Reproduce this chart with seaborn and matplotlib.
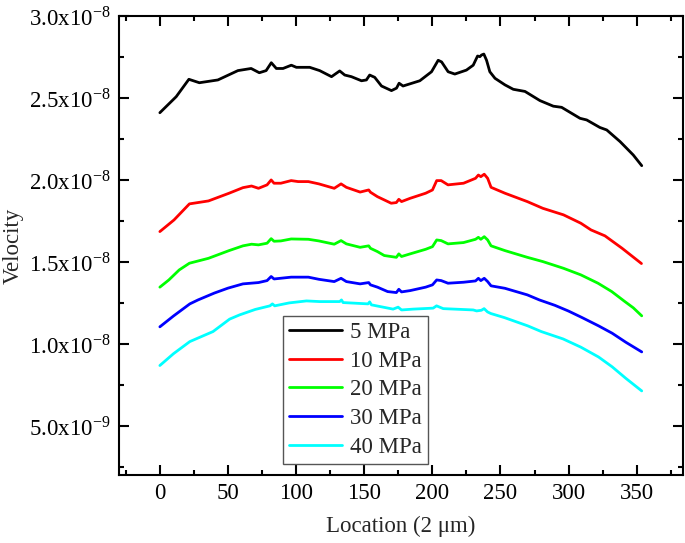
import numpy as np
import pandas as pd
import matplotlib
matplotlib.use("Agg")
import matplotlib.pyplot as plt
import seaborn as sns
from matplotlib.ticker import MultipleLocator, FuncFormatter


# Velocity profiles, values in units of 1e-8
loc_5 = [0, 12, 21.3, 29, 42.6, 57.3, 67, 73, 78, 81.8, 85.5, 90.4, 96.5, 100.2, 110,
         117.3, 126, 132, 135.7, 140.6, 148, 151.6, 154, 157.7, 162.7, 170, 173.7, 175.6,
         178.5, 190.8, 199.4, 204.3, 206.8, 211.6, 216.5, 225, 230, 233.2, 234.9, 236.1,
         237.8, 239.8, 242.2, 246, 253.3, 259.4, 268, 279, 288.8, 294.9, 308.4, 313.3,
         323, 328, 337.8, 347.5, 353.7]
vel_5 = [2.41, 2.508, 2.614, 2.593, 2.61, 2.667, 2.68, 2.654, 2.667, 2.715, 2.68, 2.68,
         2.70, 2.687, 2.687, 2.667, 2.63, 2.665, 2.64, 2.63, 2.605, 2.61, 2.64, 2.626,
         2.573, 2.545, 2.56, 2.59, 2.573, 2.605, 2.66, 2.73, 2.72, 2.66, 2.646, 2.67,
         2.70, 2.756, 2.752, 2.762, 2.768, 2.73, 2.66, 2.62, 2.58, 2.553, 2.54, 2.484,
         2.45, 2.443, 2.376, 2.366, 2.32, 2.305, 2.234, 2.152, 2.087]

loc_10 = [0, 10.4, 21.7, 35.7, 50.8, 61, 67.3, 72.4, 78.7, 81.7, 83.8, 88.8, 96.4, 101.5,
          109, 116.7, 128, 133, 136.9, 147, 153.3, 154.6, 159.7, 169.8, 173.6, 175.4,
          177.4, 183.7, 195.1, 200.1, 203.2, 206.5, 211.5, 222.9, 231.7, 233.8, 235.6,
          238.1, 240.6, 243.1, 253.3, 269.7, 281.1, 296.3, 309, 316.5, 326.7, 339.3, 353.5]
vel_10 = [1.685, 1.756, 1.854, 1.872, 1.919, 1.953, 1.963, 1.949, 1.97, 2.0, 1.98, 1.98,
          1.996, 1.99, 1.99, 1.976, 1.949, 1.976, 1.955, 1.926, 1.939, 1.925, 1.898, 1.858,
          1.862, 1.882, 1.868, 1.888, 1.919, 1.939, 1.996, 1.996, 1.97, 1.98, 2.01, 2.03,
          2.02, 2.035, 2.01, 1.955, 1.919, 1.868, 1.827, 1.787, 1.736, 1.695, 1.659,
          1.583, 1.49]

loc_20 = [0, 6.6, 14.2, 21.7, 35.7, 50.8, 61, 67.3, 72.4, 78.7, 81.7, 83.8, 88.8, 96.4,
          109, 116.7, 128, 133, 136.9, 147, 153.3, 154.6, 159.7, 164.7, 173.6, 175.4,
          177.4, 183.7, 195.1, 200.1, 203.2, 206.5, 211.5, 222.9, 231.7, 233.8, 235.6,
          238.1, 240.6, 243.1, 253.3, 269.7, 281.1, 296.3, 309, 321.6, 331.7, 341, 347.5,
          353.7]
vel_20 = [1.346, 1.39, 1.451, 1.492, 1.522, 1.569, 1.598, 1.608, 1.604, 1.614, 1.642,
          1.626, 1.628, 1.64, 1.638, 1.628, 1.608, 1.63, 1.61, 1.589, 1.598, 1.583, 1.563,
          1.539, 1.528, 1.549, 1.533, 1.549, 1.577, 1.593, 1.634, 1.63, 1.61, 1.618, 1.638,
          1.65, 1.638, 1.654, 1.634, 1.598, 1.569, 1.528, 1.502, 1.461, 1.421, 1.37, 1.319,
          1.26, 1.22, 1.171]

loc_30 = [0, 10, 22, 28, 40, 50, 61, 72.4, 78.7, 81.7, 83.8, 96.4, 109, 116.7, 128, 133,
          136.9, 147, 153.3, 154.6, 159.7, 167.2, 173.6, 175.4, 177.4, 183.7, 195.1,
          200.1, 203.2, 206.5, 211.5, 222.9, 231.7, 233.8, 235.6, 238.1, 240.6, 243.1,
          253.3, 269.7, 278.6, 290, 300, 310, 322, 332, 342, 353.7]
vel_30 = [1.104, 1.17, 1.244, 1.268, 1.31, 1.34, 1.366, 1.374, 1.386, 1.411, 1.396, 1.407,
          1.407, 1.394, 1.38, 1.40, 1.38, 1.366, 1.374, 1.36, 1.346, 1.319, 1.313, 1.333,
          1.317, 1.325, 1.346, 1.36, 1.39, 1.386, 1.37, 1.376, 1.384, 1.40, 1.386, 1.40,
          1.38, 1.354, 1.339, 1.299, 1.268, 1.235, 1.20, 1.16, 1.11, 1.065, 1.01, 0.951]

loc_40 = [0, 10, 22, 39, 51.2, 58.6, 70, 80.8, 82.6, 84.3, 95, 107.6, 117.3, 132, 133.3,
          134.5, 152.8, 154, 155.3, 171.2, 174.9, 177.4, 185.9, 200.6, 203.1, 208, 230,
          232.5, 236, 238, 240.5, 243, 253, 270, 280, 296, 309, 322, 332, 342, 353.7]
vel_40 = [0.868, 0.94, 1.014, 1.075, 1.151, 1.177, 1.21, 1.232, 1.244, 1.232, 1.25, 1.262,
          1.258, 1.258, 1.268, 1.252, 1.244, 1.256, 1.238, 1.212, 1.224, 1.207, 1.212,
          1.218, 1.232, 1.215, 1.207, 1.201, 1.205, 1.215, 1.195, 1.185, 1.16, 1.11,
          1.075, 1.03, 0.98, 0.92, 0.86, 0.79, 0.713]

labels = ['5 MPa', '10 MPa', '20 MPa', '30 MPa', '40 MPa']
colors = ['#000000', '#ff0000', '#00ff00', '#0000ff', '#00ffff']

frames = []
for lab, xs, vs in zip(labels, [loc_5, loc_10, loc_20, loc_30, loc_40],
                       [vel_5, vel_10, vel_20, vel_30, vel_40]):
    frames.append(pd.DataFrame({'Location': xs, 'Velocity': np.array(vs) * 1e-8, 'Pressure': lab}))
df = pd.concat(frames, ignore_index=True)

sns.set_theme(style="ticks")
plt.rcParams['font.family'] = ['Liberation Serif', 'DejaVu Serif']
plt.rcParams['mathtext.fontset'] = 'stix'
plt.rcParams['axes.linewidth'] = 1.5

FS = 16.5

fig = plt.figure(figsize=(6.85, 5.43), dpi=100)
ax = fig.add_axes([0.1737, 0.1252, 0.8234, 0.8453])

sns.lineplot(data=df, x='Location', y='Velocity', hue='Pressure', palette=colors,
             hue_order=labels, estimator=None, sort=True, linewidth=2.0, ax=ax)

ax.set_xlim(-30, 384)
ax.set_ylim(2e-9, 3e-8)
ax.xaxis.set_major_locator(MultipleLocator(50))
ax.xaxis.set_minor_locator(MultipleLocator(25))
ax.yaxis.set_major_locator(MultipleLocator(5e-9))
ax.yaxis.set_minor_locator(MultipleLocator(2.5e-9))


def sci_fmt(v, pos):
    if v <= 0:
        return ''
    exp = int(np.floor(np.log10(v) + 1e-9))
    mant = v / 10 ** exp
    return f'{mant:.1f}x10$^{{\\mathregular{{{exp}}}}}$'


ax.yaxis.set_major_formatter(FuncFormatter(sci_fmt))
ax.tick_params(which='both', direction='in', top=True, right=True, width=1.5,
               labelsize=FS, colors='black', pad=6)
ax.tick_params(which='major', length=7)
ax.tick_params(which='minor', length=3.5)
for s in ax.spines.values():
    s.set_color('black')

ax.set_xlabel('Location (2 μm)', fontsize=FS, labelpad=8)
ax.set_ylabel('Velocity', fontsize=FS, labelpad=4)

ax.legend(loc='lower left', bbox_to_anchor=(0.29, 0.024), borderaxespad=0,
          fontsize=FS, frameon=True, fancybox=False, framealpha=1,
          edgecolor='#555555', handlelength=2.3, handletextpad=0.35,
          labelspacing=0.33, borderpad=0.28)
ax.get_legend().get_frame().set_linewidth(1.0)

plt.savefig('out.png', dpi=100)
